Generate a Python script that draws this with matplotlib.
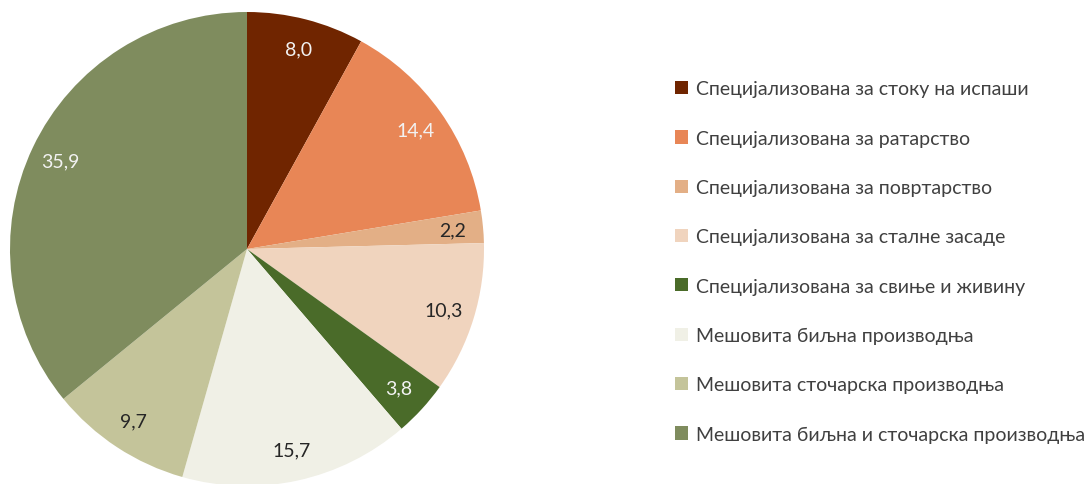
import matplotlib
matplotlib.use("Agg")
import matplotlib.pyplot as plt

# Data
categories = [
    "Специјализована за стоку на испаши",
    "Специјализована за ратарство",
    "Специјализована за повртарство",
    "Специјализована за сталне засаде",
    "Специјализована за свиње и живину",
    "Мешовита биљна производња",
    "Мешовита сточарска производња",
    "Мешовита биљна и сточарска производња",
]
values = [8.0, 14.4, 2.2, 10.3, 3.8, 15.7, 9.7, 35.9]
colors = ["#702500", "#E88656", "#E3AF86", "#F0D4BE",
          "#4A6B29", "#F0F0E6", "#C4C49A", "#7F8C5E"]
label_colors = ["#F2F2F2", "#F2F2F2", "#262626", "#262626",
                "#F2F2F2", "#262626", "#262626", "#F2F2F2"]

plt.rcParams['font.family'] = ['Lato', 'DejaVu Sans']

W, H = 1089, 485
fig = plt.figure(figsize=(W / 100, H / 100), dpi=100)

cx, cy, r = 247, 250, 237
ax = fig.add_axes([(cx - r) / W, (H - cy - r) / H, 2 * r / W, 2 * r / H])

wedges, texts = ax.pie(values, colors=colors, startangle=90, counterclock=False,
                       radius=1, labels=[f"{v:.1f}".replace(".", ",") for v in values],
                       labeldistance=0.87, wedgeprops=dict(linewidth=0),
                       textprops=dict(fontsize=14))
for t, c in zip(texts, label_colors):
    t.set_color(c)
    t.set_horizontalalignment("center")
    t.set_verticalalignment("center")
ax.set_xlim(-1, 1)
ax.set_ylim(-1, 1)
ax.set_aspect("equal")
ax.axis("off")

fig.legend(wedges, categories, loc="upper left", bbox_to_anchor=(657 / W, 1 - 64 / H),
           frameon=False, fontsize=14, labelspacing=1.66, handlelength=0.68,
           handleheight=0.68, handletextpad=0.45, labelcolor="#404040")

fig.savefig("out.png", dpi=100)
